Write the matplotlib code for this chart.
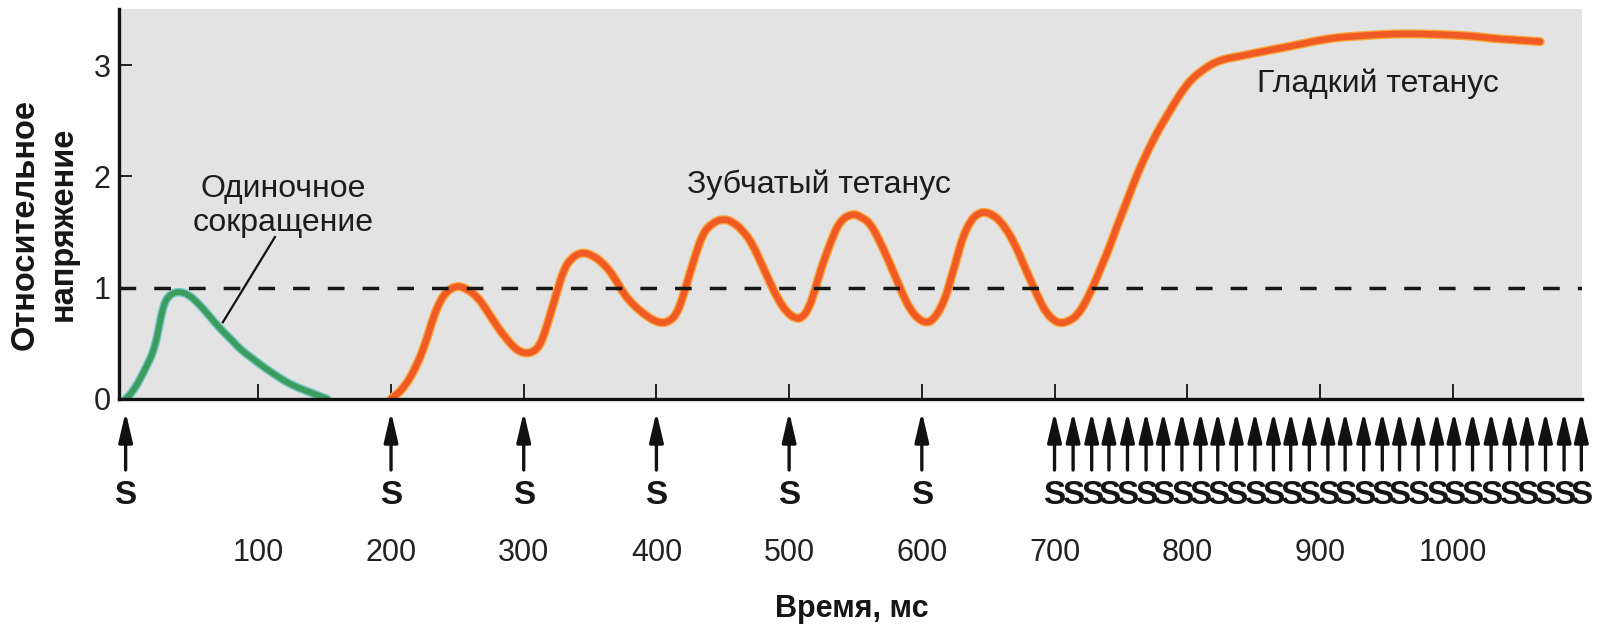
import matplotlib
matplotlib.use("Agg")
import matplotlib.pyplot as plt
from matplotlib.path import Path
from matplotlib.patches import PathPatch

plt.rcParams['font.family'] = ['Liberation Sans', 'DejaVu Sans']

# Single twitch (ms, relative tension)
twitch_t = [0, 5, 11, 16, 20, 23, 25, 27, 29, 31, 34, 38, 42, 47, 53, 60, 67,
            73, 80, 86, 96, 106, 116, 126, 139, 152]
twitch_v = [0.00, 0.06, 0.18, 0.30, 0.40, 0.52, 0.64, 0.76, 0.85, 0.90, 0.94,
            0.96, 0.96, 0.94, 0.88, 0.79, 0.69, 0.61, 0.53, 0.45, 0.36, 0.27,
            0.19, 0.12, 0.06, 0.00]

# Summation -> incomplete (serrated) and complete (smooth) tetanus
tet_t = [200, 210, 219, 226, 232, 237, 242, 250, 257, 265, 272, 280, 287, 293,
         298, 303, 308, 312, 316, 320, 325, 330, 336, 344, 352, 360, 368, 375,
         383, 390, 397, 404, 410, 415, 419, 423, 429, 435, 442, 450, 458, 466,
         472, 479, 485, 491, 498, 505, 510, 515, 519, 524, 531, 538, 548, 555,
         561, 567, 574, 580, 586, 591, 597, 604, 609, 614, 618, 621, 626, 631,
         637, 643, 648, 654, 659, 665, 671, 677, 684, 689, 694, 700, 705, 711,
         717, 723, 729, 735, 742, 747, 754, 760, 766, 772, 778, 785, 791, 797,
         803, 810, 816, 822, 830, 840, 852, 865, 878, 890, 903, 915, 928, 940,
         955, 978, 1000, 1015, 1030, 1041, 1055, 1066]
tet_v = [0.00, 0.10, 0.29, 0.50, 0.74, 0.88, 0.97, 1.02, 0.99, 0.92, 0.80, 0.65,
         0.54, 0.46, 0.42, 0.41, 0.43, 0.48, 0.60, 0.76, 0.96, 1.16, 1.27, 1.32,
         1.29, 1.22, 1.10, 0.95, 0.84, 0.77, 0.71, 0.68, 0.70, 0.76, 0.88, 1.04,
         1.28, 1.49, 1.58, 1.62, 1.59, 1.50, 1.40, 1.22, 1.06, 0.91, 0.78, 0.72,
         0.73, 0.82, 0.96, 1.17, 1.40, 1.60, 1.67, 1.63, 1.58, 1.45, 1.27, 1.10,
         0.93, 0.81, 0.72, 0.68, 0.72, 0.81, 0.92, 1.04, 1.25, 1.46, 1.61, 1.67,
         1.68, 1.65, 1.60, 1.50, 1.37, 1.20, 1.01, 0.88, 0.77, 0.70, 0.68, 0.70,
         0.75, 0.86, 1.01, 1.18, 1.38, 1.55, 1.76, 1.95, 2.12, 2.27, 2.41, 2.55,
         2.67, 2.78, 2.87, 2.94, 2.99, 3.03, 3.06, 3.08, 3.11, 3.14, 3.17, 3.20,
         3.23, 3.25, 3.26, 3.27, 3.28, 3.28, 3.27, 3.26, 3.24, 3.23, 3.22, 3.21]

# Stimulus times (ms)
stimuli = [0, 200, 300, 400, 500, 600,
           700, 714, 728, 741, 755, 769, 782, 796, 810, 823, 837, 851, 865, 878,
           892, 906, 919, 933, 947, 960, 974, 988, 1001, 1015, 1029, 1043, 1056,
           1070, 1084, 1097]

x_ticks = [100, 200, 300, 400, 500, 600, 700, 800, 900, 1000]
y_ticks = [0, 1, 2, 3]


def smooth_trace(xs, ys):
    """Quadratic Bezier path running through the midpoints of the samples."""
    pts = list(zip(xs, ys))
    verts = [pts[0], ((pts[0][0] + pts[1][0]) / 2, (pts[0][1] + pts[1][1]) / 2)]
    codes = [Path.MOVETO, Path.LINETO]
    for i in range(1, len(pts) - 1):
        mid = ((pts[i][0] + pts[i + 1][0]) / 2, (pts[i][1] + pts[i + 1][1]) / 2)
        verts += [pts[i], mid]
        codes += [Path.CURVE3, Path.CURVE3]
    verts.append(pts[-1])
    codes.append(Path.LINETO)
    return Path(verts, codes)


def draw_trace(ax, xs, ys, halo, core, w_halo, w_core):
    path = smooth_trace(xs, ys)
    for color, lw, z in ((halo, w_halo, 3), (core, w_core, 4)):
        ax.add_patch(PathPatch(path, facecolor='none', edgecolor=color, lw=lw,
                               capstyle='round', joinstyle='round', zorder=z))


W, H = 1602, 629
fig = plt.figure(figsize=(W / 100, H / 100), dpi=100)
ax_h_px = 389.6
ax = fig.add_axes([119 / W, (H - 399) / H, (1582 - 119) / W, ax_h_px / H])
ax.set_facecolor('#e3e3e3')
ax.set_xlim(-5, 1097.5)
ax.set_ylim(0, 3.5)

for side in ('top', 'right'):
    ax.spines[side].set_visible(False)
for side in ('left', 'bottom'):
    ax.spines[side].set_linewidth(2.4)
    ax.spines[side].set_color('#111111')
    ax.spines[side].set_zorder(6)

ax.set_xticks(x_ticks)
ax.set_yticks(y_ticks)
ax.tick_params(axis='x', direction='in', length=11, width=1.3, color='#111111',
               pad=100, labelsize=22, labelcolor='#222222')
ax.tick_params(axis='y', direction='in', length=9.5, width=1.3, color='#111111',
               pad=6, labelsize=22, labelcolor='#222222')

# Curves: a light halo under a saturated core
draw_trace(ax, twitch_t, twitch_v, '#74c7c4', '#3c9c5e', 6.2, 4.2)
draw_trace(ax, tet_t, tet_v, '#f9a63e', '#f05a24', 6.6, 4.6)

# Reference level of a single twitch
ax.axhline(1.0, color='#161616', lw=2.5, dashes=(4.8, 5.2), zorder=5)

# Labels inside the plot
ax.text(119, 1.818, 'Одиночное', ha='center', va='baseline', fontsize=23,
        color='#1c1c1c', zorder=6)
ax.text(119, 1.512, 'сокращение', ha='center', va='baseline', fontsize=23,
        color='#1c1c1c', zorder=6)
ax.plot([112.5, 73.3], [1.455, 0.69], color='#111111', lw=1.6, zorder=6)
ax.text(522.5, 1.848, 'Зубчатый тетанус', ha='center', va='baseline',
        fontsize=23, color='#1c1c1c', zorder=6)
ax.text(944, 2.761, 'Гладкий тетанус', ha='center', va='baseline',
        fontsize=23, color='#1c1c1c', zorder=6)

# Stimulus arrows and marks below the time axis
trans = ax.get_xaxis_transform()
y_tip = -12.7 / ax_h_px
y_tail = -71.0 / ax_h_px
y_s = -96.0 / ax_h_px
for t in stimuli:
    ax.annotate('', xy=(t, y_tip), xycoords=trans, xytext=(t, y_tail),
                textcoords=trans, annotation_clip=False,
                arrowprops=dict(arrowstyle='-|>,head_length=1.8,head_width=0.42',
                                lw=2.4, color='#111111', shrinkA=0, shrinkB=0,
                                mutation_scale=10))
    ax.text(t, y_s, 'S', transform=trans, ha='center', va='center',
            fontsize=24, fontweight='bold', color='#161616', clip_on=False)

# Axis titles
fig.text(852 / W, 1 - 616.7 / H, 'Время, мс', ha='center', va='baseline',
         fontsize=22, fontweight='bold', color='#161616')
fig.text(25.4 / W, 1 - 224 / H, 'Относительное', rotation=90, ha='center',
         va='center', fontsize=23.5, fontweight='bold', color='#161616')
fig.text(63.5 / W, 1 - 224 / H, 'напряжение', rotation=90, ha='center',
         va='center', fontsize=23.5, fontweight='bold', color='#161616')

fig.savefig('out.png', dpi=100, facecolor='white')
